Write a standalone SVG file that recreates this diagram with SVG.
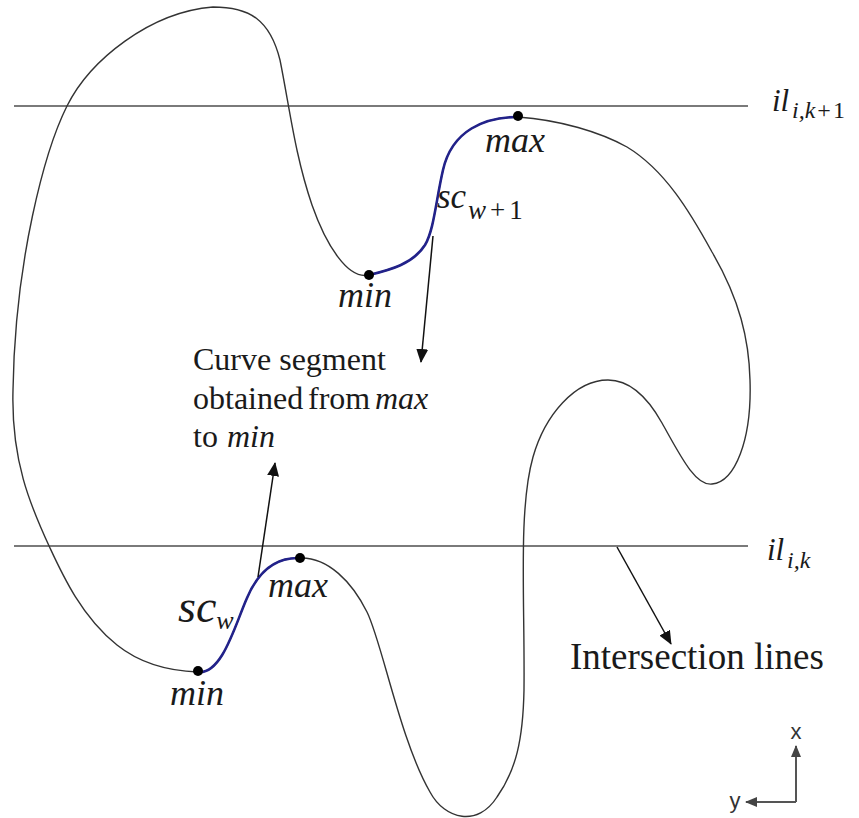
<svg xmlns="http://www.w3.org/2000/svg" width="859" height="818" viewBox="0 0 859 818">
<style>
.curve{fill:none;stroke:#333;stroke-width:1.4}
.blue{fill:none;stroke:#22228a;stroke-width:2.6;stroke-linecap:round}
.iline{stroke:#7a7a7a;stroke-width:2}
.arrow{stroke:#111;stroke-width:1.5;fill:none;marker-end:url(#ah)}
.axis{stroke:#555;stroke-width:2;fill:none;marker-end:url(#ah2)}
.math{font-family:'Liberation Serif','DejaVu Serif',serif;font-style:italic;fill:#1a1a1a}
.up{font-style:normal}
.lbl{font-family:'Liberation Serif','DejaVu Serif',serif;fill:#1a1a1a}
.ax{font-family:'Liberation Sans','DejaVu Sans',sans-serif;fill:#333;font-size:22px}
.dot{fill:#000}
</style>
<defs>
<marker id="ah" markerUnits="userSpaceOnUse" markerWidth="14" markerHeight="12" refX="13" refY="6" orient="auto">
<path d="M0,0 L14,6 L0,12 Z" fill="#111"/>
</marker>
<marker id="ah2" markerUnits="userSpaceOnUse" markerWidth="12" markerHeight="10" refX="11" refY="5" orient="auto">
<path d="M0,0 L12,5 L0,10 Z" fill="#444"/>
</marker>
</defs>
<rect width="859" height="818" fill="#fff"/>

<g id="intersection-lines">
<line class="iline" x1="14" y1="106" x2="748" y2="106"/>
<line class="iline" x1="14" y1="546" x2="748" y2="546"/>
</g>

<g id="closed-curve">
<path class="curve" d="M213,7 C150,12 90,60 67,106 C45,150 15,260 13,390 C11,460 30,505 50,548 C63,576 82,617 117,645 C142,665 170,671 198,672 C222,675 235,625 247,598 C258,572 275,557 300,558 C328,557 352,582 367,612 C382,642 400,740 430,792 C445,820 478,827 497,797 C516,770 523,740 524,690 C525,600 518,510 533,457 C545,415 575,380 608,380 C630,380 648,398 662,423 C680,455 695,486 712,484 C735,482 752,440 750,380 C749,340 740,300 712,252 C690,212 665,170 627,147 C600,132 560,120 518,117 C485,117 452,130 443,170 C436,200 434,230 425,245 C413,264 390,270 369,275 C348,280 326,245 312,205 C295,155 290,110 280,60 C270,20 250,7 213,7 Z"/>
</g>

<g id="segment-sc-w">
<path class="blue" d="M198,672 C222,675 235,625 247,598 C258,572 275,557 300,558"/>
<circle class="dot" cx="198" cy="671" r="5"/>
<circle class="dot" cx="300" cy="558" r="5"/>
<text class="math" x="170" y="705" font-size="36">min</text>
<text class="math" x="268" y="597" font-size="36">max</text>
<text class="math" x="178" y="622" font-size="46">sc<tspan font-size="26" y="629">w</tspan></text>
</g>

<g id="segment-sc-w1">
<path class="blue" d="M518,117 C485,117 452,130 443,170 C436,200 434,230 425,245 C413,264 390,270 369,275"/>
<circle class="dot" cx="369" cy="275" r="5"/>
<circle class="dot" cx="518" cy="116" r="5"/>
<text class="math" x="437" y="208" font-size="35">sc<tspan font-size="27" y="219" x="468">w<tspan class="up" dx="4">+</tspan><tspan class="up" dx="4">1</tspan></tspan></text>
<text class="math" x="338" y="307" font-size="36">min</text>
<text class="math" x="485" y="152" font-size="36">max</text>
</g>

<g id="label-il-k1">
<text class="math" x="772" y="111" font-size="31">il<tspan font-size="24" y="118" x="792">i,k<tspan class="up" dx="2">+</tspan><tspan class="up" dx="2">1</tspan></tspan></text>
</g>
<g id="label-il-k">
<text class="math" x="767" y="560" font-size="31">il<tspan font-size="24" y="568" x="787">i,k</tspan></text>
</g>

<g id="label-curve-segment">
<text class="lbl" font-size="32" x="193" y="370">Curve segment</text>
<text class="lbl" font-size="32" y="409"><tspan x="193">obtained</tspan><tspan x="308">from</tspan><tspan x="375" font-style="italic">max</tspan></text>
<text class="lbl" font-size="32" y="447"><tspan x="193">to</tspan><tspan x="227" font-style="italic">min</tspan></text>
</g>

<g id="label-intersection">
<text class="lbl" font-size="37" x="570" y="669">Intersection lines</text>
</g>

<g id="axes">
<path class="axis" d="M796,802 L796,746"/>
<path class="axis" d="M796,802 L746,802"/>
<text class="ax" x="796" y="739" text-anchor="middle">x</text>
<text class="ax" x="735" y="808" text-anchor="middle">y</text>
</g>

<g id="connectors">
<line class="arrow" x1="433" y1="236" x2="421" y2="362"/>
<line class="arrow" x1="258" y1="577" x2="275" y2="463"/>
<line class="arrow" x1="617" y1="547" x2="671" y2="644"/>
</g>
</svg>
